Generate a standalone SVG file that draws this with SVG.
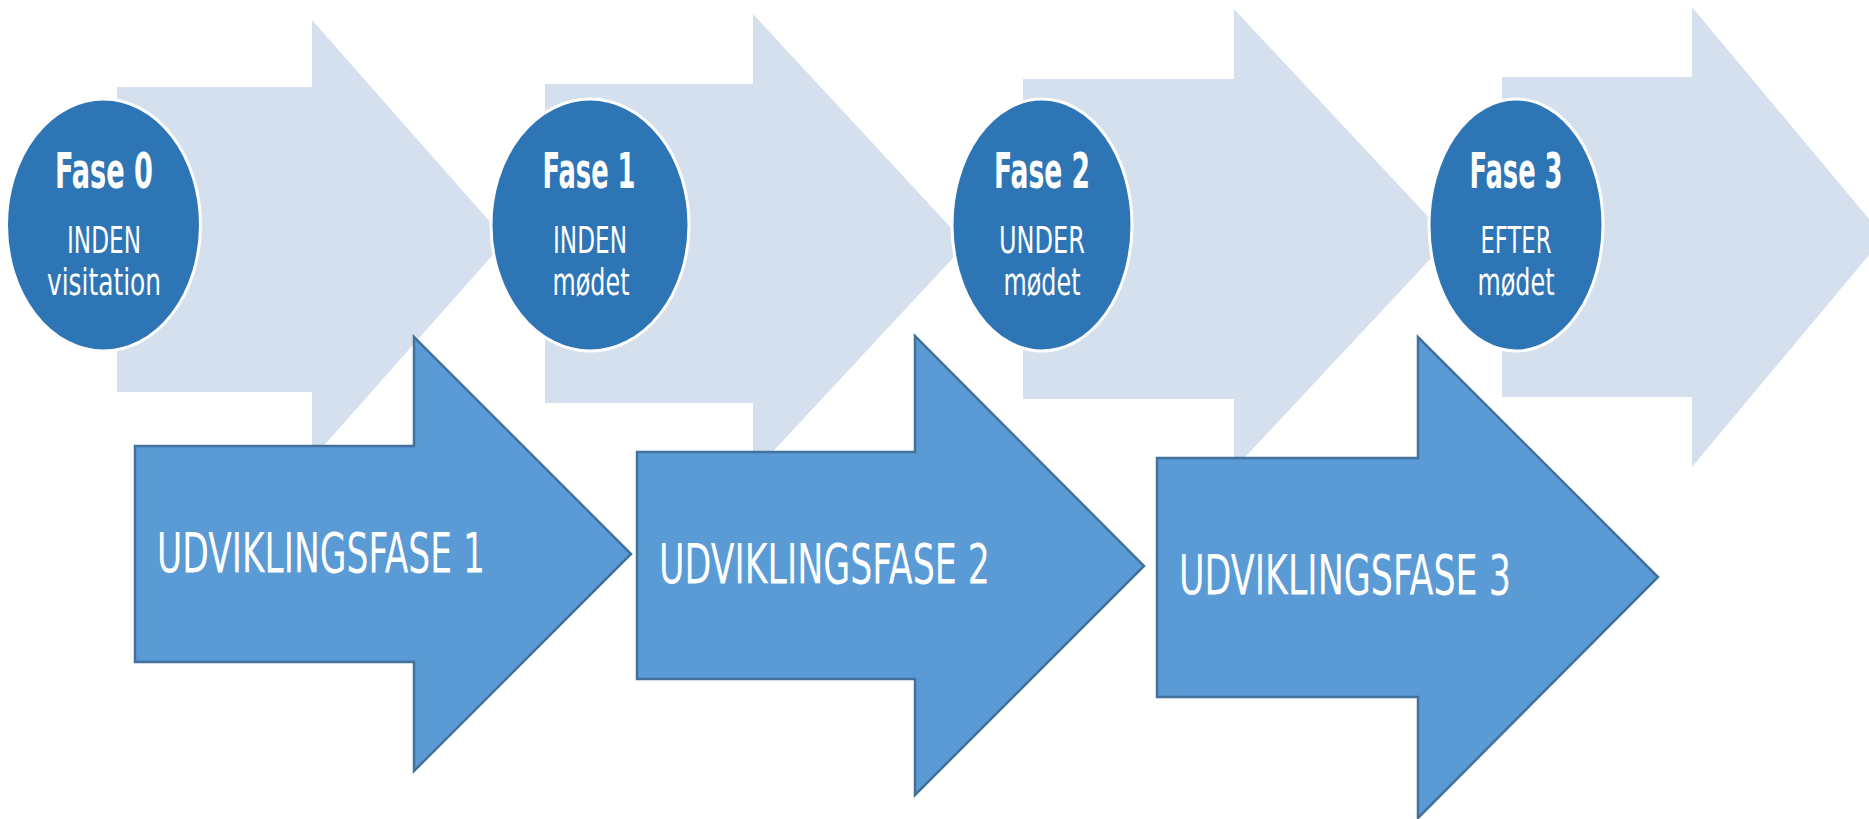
<svg xmlns="http://www.w3.org/2000/svg" width="1869" height="819" viewBox="0 0 1869 819">
<style>
.bg{fill:#d5e0ef;stroke:none}
.phase{fill:#2e75b6;stroke:#ffffff;stroke-width:3}
.dev{fill:#5b9bd5;stroke:#41719c;stroke-width:2.5;stroke-linejoin:miter}
.t{font-family:"Liberation Sans Narrow","DejaVu Sans Condensed","Liberation Sans",sans-serif;fill:#ffffff}
.h{font-size:50px;font-weight:bold;text-anchor:middle}
.s{font-size:38px;text-anchor:middle}
.d{font-size:56px}
</style>
<rect width="1869" height="819" fill="#ffffff"/>
<g id="bg-arrows">
<polygon id="bg1" class="bg" points="117,87 312,87 312,20 506,240 312,459 312,392 117,392"/>
<polygon id="bg2" class="bg" points="545,84 753,84 753,14 966,244 753,473 753,403 545,403"/>
<polygon id="bg3" class="bg" points="1023,79 1234,79 1234,9 1449,239 1234,469 1234,399 1023,399"/>
<polygon id="bg4" class="bg" points="1502,77 1692,77 1692,7 1884,237 1692,467 1692,397 1502,397"/>
</g>
<g id="fase0">
<ellipse class="phase" cx="103.5" cy="225" rx="97" ry="126"/>
<text class="t h" x="104" y="188" textLength="98" lengthAdjust="spacingAndGlyphs">Fase 0</text>
<text class="t s" x="104" y="253" textLength="74" lengthAdjust="spacingAndGlyphs">INDEN</text>
<text class="t s" x="104" y="295" textLength="114" lengthAdjust="spacingAndGlyphs">visitation</text>
</g>
<g id="fase1">
<ellipse class="phase" cx="590" cy="225" rx="99" ry="126"/>
<text class="t h" x="589" y="188" textLength="93" lengthAdjust="spacingAndGlyphs">Fase 1</text>
<text class="t s" x="590" y="253" textLength="74" lengthAdjust="spacingAndGlyphs">INDEN</text>
<text class="t s" x="591" y="295" textLength="77" lengthAdjust="spacingAndGlyphs">mødet</text>
</g>
<g id="fase2">
<ellipse class="phase" cx="1042" cy="225" rx="90" ry="126"/>
<text class="t h" x="1042" y="188" textLength="96" lengthAdjust="spacingAndGlyphs">Fase 2</text>
<text class="t s" x="1042" y="253" textLength="86" lengthAdjust="spacingAndGlyphs">UNDER</text>
<text class="t s" x="1042" y="295" textLength="77" lengthAdjust="spacingAndGlyphs">mødet</text>
</g>
<g id="fase3">
<ellipse class="phase" cx="1516" cy="225" rx="87" ry="126"/>
<text class="t h" x="1516" y="188" textLength="93" lengthAdjust="spacingAndGlyphs">Fase 3</text>
<text class="t s" x="1516" y="253" textLength="71" lengthAdjust="spacingAndGlyphs">EFTER</text>
<text class="t s" x="1516" y="295" textLength="77" lengthAdjust="spacingAndGlyphs">mødet</text>
</g>
<g id="udv1">
<polygon class="dev" points="135,446 414,446 414,337 631,554 414,771 414,662 135,662"/>
<text class="t d" x="157" y="572" textLength="328" lengthAdjust="spacingAndGlyphs">UDVIKLINGSFASE 1</text>
</g>
<g id="udv2">
<polygon class="dev" points="637,452 915,452 915,336 1144,566 915,795 915,679 637,679"/>
<text class="t d" x="659" y="583" textLength="331" lengthAdjust="spacingAndGlyphs">UDVIKLINGSFASE 2</text>
</g>
<g id="udv3">
<polygon class="dev" points="1157,458 1418,458 1418,337 1658,577 1418,818 1418,697 1157,697"/>
<text class="t d" x="1179" y="594" textLength="332" lengthAdjust="spacingAndGlyphs">UDVIKLINGSFASE 3</text>
</g>
<g id="connectors"></g>
</svg>
